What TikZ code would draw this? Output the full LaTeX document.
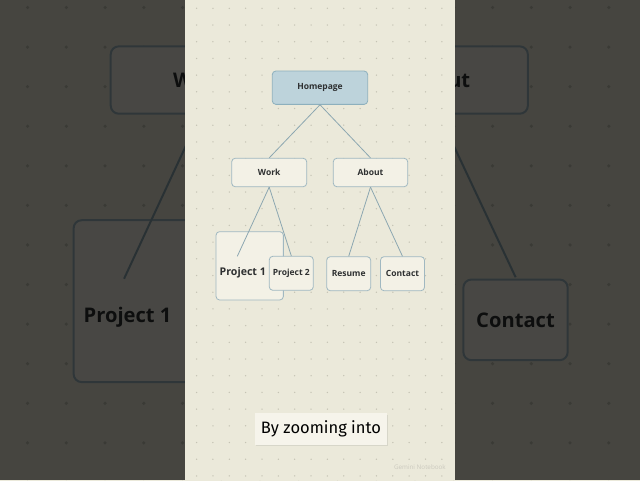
\documentclass[tikz,border=0pt]{standalone}
\usepackage{fontspec}
\setmainfont{Open Sans}
\newfontfamily\handfont{Fira Sans}
\usepackage{tikz}
\usetikzlibrary{positioning}
\usetikzlibrary{shadows}
\definecolor{panelbg}{HTML}{EBE9DA}
\definecolor{dotc}{HTML}{C5C3B4}
\definecolor{pagefill}{HTML}{F3F1E6}
\definecolor{edgec}{HTML}{A0B8C1}
\definecolor{linkc}{HTML}{8CA7B1}
\definecolor{homefill}{HTML}{BDD3DB}
\definecolor{homeedge}{HTML}{8DB0BD}
\definecolor{inkc}{HTML}{2E3031}
\definecolor{notefill}{HTML}{F6F4EB}
\definecolor{markc}{HTML}{CBC9BE}
\tikzstyle{boxr} = [rounded corners=3.5pt]
\tikzstyle{page} = [rectangle, draw=edgec, fill=pagefill, boxr, inner sep=0pt, minimum width=44pt, minimum height=34pt, text=inkc, font=\bfseries\fontsize{8.5}{10}\selectfont]
\tikzstyle{homepg} = [page, fill=homefill, draw=homeedge]
\tikzstyle{plabel} = [inner sep=0pt, text=inkc, anchor=west]
\tikzstyle{p1font} = [font=\bfseries\fontsize{10.6}{12}\selectfont]
\tikzstyle{link} = [draw=linkc]
\tikzstyle{note} = [rectangle, fill=notefill, inner sep=0pt, minimum width=131.7pt, minimum height=31.7pt, drop shadow={shadow xshift=1pt, shadow yshift=-1.2pt, opacity=0.18}]
% the site map, drawn once in the panel and once blown up behind it
\newcommand{\sitemap}{%
    \fill[panelbg] (185,0) rectangle (455,480);
    \foreach \i in {0,...,15}
        \foreach \j in {0,...,28}
            \fill[dotc] ({196.6+16.35*\i},{8.3+16.7*\j}) circle (0.75);
    \node [homepg, minimum width=95.4pt, minimum height=33.3pt] (home) at (320,87.7) {Homepage};
    \node [page, minimum width=75pt, minimum height=28.4pt] (work) at (269.2,172.5) {Work};
    \node [page, minimum width=74.4pt, minimum height=28.4pt] (about) at (370.5,172.5) {About};
    \node [page, minimum width=67.3pt, minimum height=68.3pt] (proj1) at (249.7,265.8) {};
    \node [plabel, p1font] (proj1txt) at (219.3,272.7) {Project 1};
    \coordinate (proj1end) at (237.3,256.3);
    \node [page] (proj2) at (291.3,273.3) {Project 2};
    \node [page] (resume) at (348.7,273.7) {Resume};
    \node [page] (contact) at (402.5,273.7) {Contact};
    \draw[link] (home.south) -- (work.north);
    \draw[link] (home.south) -- (about.north);
    \draw[link] (work.south) -- (proj1end);
    \draw[link] (work.south) -- (proj2.north);
    \draw[link] (about.south) -- (resume.north);
    \draw[link] (about.south) -- (contact.north);
}

\begin{document}
\begin{tikzpicture}[x=1pt,y=-1pt]
    \useasboundingbox (0,0) rectangle (640,480);
    \clip (0,0) rectangle (640,480);

    % blurred close-up behind the panel
    \begin{scope}[shift={(320,240)}, scale=2.37, shift={(-320,-240)}, transform shape,
        name prefix=bg-, line width=2pt, boxr/.style={rounded corners=8pt},
        p1font/.style={font=\bfseries\fontsize{8.5}{10}\selectfont}]
        \sitemap
    \end{scope}
    \fill[black, opacity=0.7] (0,0) rectangle (640,480);

    % the panel itself
    \begin{scope}[line width=0.8pt]
        \sitemap
    \end{scope}

    \node [note] (caption) at (320.9,429.2) {\handfont\fontsize{16.5}{18}\selectfont By zooming into};
    \node [text=markc, anchor=east, inner sep=0pt, font=\fontsize{6.3}{7}\selectfont] (mark) at (446,467) {Gemini Notebook};
\end{tikzpicture}
\end{document}
